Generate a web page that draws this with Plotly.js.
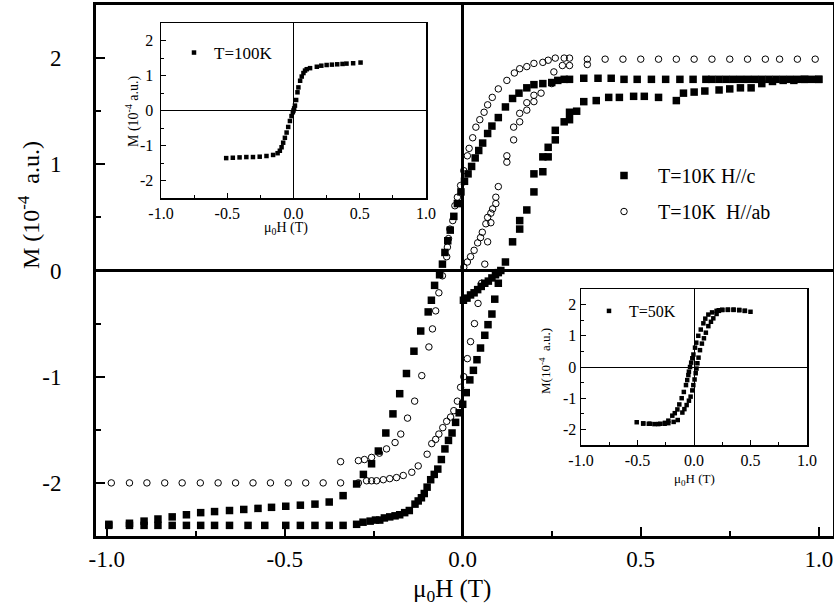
<!DOCTYPE html>
<html>
<head>
<meta charset="utf-8">
<script src="https://cdn.plot.ly/plotly-3.0.1.min.js"></script>
<style>html,body{margin:0;padding:0;background:#fff;}#chart{width:834px;height:616px;}</style>
</head>
<body>
<div id="chart"></div>
<script>
// ---------- Main panel: T=10K, H//c (filled squares) ----------
const cDescX = [1.00,0.98,0.96,0.94,0.92,0.90,0.88,0.86,0.84,0.82,0.80,0.78,0.76,0.74,0.72,0.70,0.683,0.647,0.61,0.57,0.53,0.49,0.453,0.417,0.38,0.34,0.30,0.285,0.267,0.25,0.225,0.20,0.18,0.158,0.14,0.12,0.10,0.082,0.07,0.056,0.045,0.035,0.025,0.015,0.005,-0.005,-0.015,-0.025,-0.035,-0.042,-0.05,-0.057,-0.065,-0.079,-0.088,-0.097,-0.118,-0.137,-0.158,-0.177,-0.196,-0.216,-0.237,-0.256,-0.279,-0.298,-0.336,-0.375,-0.415,-0.456,-0.497,-0.537,-0.575,-0.615,-0.655,-0.697,-0.736,-0.776,-0.816,-0.856,-0.895,-0.936,-0.994];
const cDescM = [1.80,1.80,1.80,1.80,1.80,1.80,1.80,1.80,1.80,1.80,1.80,1.80,1.80,1.80,1.80,1.80,1.80,1.80,1.80,1.80,1.80,1.80,1.80,1.81,1.81,1.81,1.80,1.80,1.79,1.77,1.76,1.75,1.72,1.67,1.62,1.54,1.44,1.36,1.29,1.20,1.13,1.06,0.98,0.91,0.84,0.74,0.63,0.51,0.38,0.28,0.17,0.06,-0.04,-0.14,-0.28,-0.39,-0.57,-0.76,-0.97,-1.16,-1.35,-1.53,-1.70,-1.82,-1.92,-2.01,-2.12,-2.18,-2.20,-2.21,-2.22,-2.23,-2.24,-2.25,-2.26,-2.27,-2.28,-2.30,-2.32,-2.34,-2.36,-2.38,-2.39];
const cAscX = [-0.994,-0.936,-0.895,-0.856,-0.816,-0.776,-0.736,-0.697,-0.655,-0.603,-0.556,-0.497,-0.456,-0.415,-0.375,-0.336,-0.298,-0.28,-0.26,-0.245,-0.233,-0.22,-0.205,-0.19,-0.177,-0.163,-0.15,-0.134,-0.125,-0.116,-0.108,-0.10,-0.09,-0.08,-0.07,-0.06,-0.05,-0.04,-0.03,-0.02,-0.01,0.0,0.01,0.02,0.03,0.04,0.05,0.062,0.071,0.082,0.09,0.10,0.12,0.14,0.16,0.16,0.18,0.20,0.20,0.225,0.225,0.24,0.24,0.26,0.26,0.285,0.30,0.30,0.32,0.34,0.375,0.41,0.44,0.48,0.51,0.55,0.60,0.62,0.65,0.68,0.72,0.75,0.78,0.81,0.84,0.87,0.90,0.93,0.96,1.00];
const cAscM = [-2.40,-2.40,-2.40,-2.40,-2.40,-2.40,-2.40,-2.40,-2.40,-2.40,-2.40,-2.40,-2.40,-2.40,-2.40,-2.40,-2.39,-2.37,-2.36,-2.35,-2.35,-2.33,-2.32,-2.31,-2.30,-2.28,-2.26,-2.20,-2.17,-2.14,-2.10,-2.04,-1.97,-1.92,-1.87,-1.78,-1.68,-1.60,-1.53,-1.43,-1.34,-1.26,-1.15,-1.03,-0.94,-0.84,-0.73,-0.61,-0.51,-0.41,-0.27,-0.12,0.08,0.27,0.39,0.47,0.57,0.74,0.91,0.93,1.07,1.07,1.16,1.23,1.32,1.40,1.42,1.49,1.50,1.59,1.60,1.63,1.63,1.64,1.64,1.63,1.60,1.67,1.68,1.69,1.70,1.71,1.72,1.72,1.76,1.78,1.79,1.79,1.80,1.80];
const cInitX = [0.002,0.012,0.022,0.032,0.042,0.052,0.062,0.072,0.082,0.092,0.100,0.107];
const cInitM = [-0.28,-0.26,-0.23,-0.21,-0.18,-0.15,-0.12,-0.10,-0.07,-0.04,-0.02,0.00];

// ---------- Main panel: T=10K, H//ab (open circles) ----------
const abDescX = [0.99,0.94,0.89,0.85,0.80,0.75,0.70,0.65,0.60,0.55,0.50,0.45,0.40,0.35,0.30,0.285,0.26,0.24,0.225,0.20,0.18,0.16,0.145,0.124,0.10,0.083,0.07,0.06,0.048,0.037,0.028,0.018,0.013,0.003,-0.006,-0.015,-0.022,-0.028,-0.036,-0.04,-0.043,-0.045,-0.057,-0.067,-0.076,-0.085,-0.095,-0.115,-0.135,-0.155,-0.174,-0.19,-0.214,-0.234,-0.256,-0.276,-0.293,-0.343,-0.392,-0.441,-0.490,-0.540,-0.589,-0.638,-0.687,-0.737,-0.788,-0.837,-0.887,-0.936,-0.987];
const abDescM = [1.99,1.99,1.99,1.99,1.99,1.99,1.99,1.99,1.99,1.99,1.99,1.99,1.99,1.99,2.00,2.00,2.00,1.98,1.96,1.95,1.92,1.90,1.86,1.79,1.71,1.63,1.56,1.49,1.42,1.35,1.25,1.15,1.08,0.94,0.80,0.69,0.61,0.47,0.39,0.30,0.22,0.13,-0.05,-0.21,-0.38,-0.55,-0.72,-0.99,-1.23,-1.39,-1.54,-1.62,-1.68,-1.72,-1.76,-1.78,-1.79,-1.80,-2.00,-2.00,-2.00,-2.00,-2.00,-2.00,-2.00,-2.00,-2.00,-2.00,-2.00,-2.00,-2.00];
const abAscX = [-0.343,-0.293,-0.27,-0.256,-0.242,-0.223,-0.205,-0.186,-0.167,-0.143,-0.125,-0.10,-0.087,-0.076,-0.067,-0.056,-0.045,-0.034,-0.025,-0.015,-0.006,0.003,0.013,0.022,0.033,0.043,0.053,0.062,0.07,0.079,0.084,0.093,0.093,0.10,0.124,0.124,0.143,0.143,0.16,0.16,0.18,0.18,0.20,0.20,0.22,0.25,0.256,0.28,0.30,0.35];
const abAscM = [-2.00,-2.00,-1.98,-1.98,-1.98,-1.97,-1.96,-1.95,-1.93,-1.90,-1.84,-1.73,-1.63,-1.59,-1.54,-1.48,-1.42,-1.38,-1.32,-1.23,-1.10,-1.00,-0.83,-0.67,-0.50,-0.31,-0.12,0.06,0.27,0.54,0.58,0.63,0.69,0.79,1.02,1.08,1.23,1.35,1.40,1.48,1.51,1.58,1.59,1.65,1.67,1.76,1.87,1.93,1.93,1.94];
const abInitX = [0.003,0.013,0.022,0.032,0.042,0.050,0.055,0.065,0.070,0.079];
const abInitM = [0.03,0.08,0.13,0.19,0.26,0.31,0.36,0.44,0.50,0.45];

// ---------- Inset: T=100K ----------
const t100X = [-0.508,-0.458,-0.407,-0.356,-0.306,-0.255,-0.204,-0.154,-0.12,-0.103,-0.09,-0.078,-0.065,-0.052,-0.04,-0.027,-0.015,-0.005,0.0,0.005,0.011,0.02,0.03,0.037,0.05,0.062,0.075,0.087,0.10,0.125,0.176,0.21,0.25,0.29,0.33,0.37,0.40,0.45,0.506];
const t100M = [-1.36,-1.35,-1.34,-1.33,-1.33,-1.32,-1.30,-1.27,-1.22,-1.15,-1.05,-0.92,-0.78,-0.63,-0.47,-0.30,-0.16,-0.05,0.0,0.06,0.14,0.30,0.52,0.66,0.85,0.97,1.07,1.14,1.18,1.21,1.25,1.28,1.30,1.31,1.32,1.33,1.34,1.35,1.37];

// ---------- Inset: T=50K ----------
const t50DescX = [0.50,0.45,0.40,0.35,0.30,0.25,0.22,0.20,0.16,0.127,0.10,0.083,0.06,0.038,0.02,0.009,-0.005,-0.015,-0.025,-0.035,-0.045,-0.05,-0.06,-0.071,-0.09,-0.109,-0.13,-0.147,-0.17,-0.192,-0.227,-0.257,-0.30,-0.35,-0.39,-0.449,-0.507];
const t50DescM = [1.77,1.80,1.82,1.83,1.83,1.83,1.82,1.80,1.75,1.68,1.55,1.40,1.20,1.00,0.78,0.62,0.40,0.28,0.14,0.00,-0.15,-0.26,-0.42,-0.58,-0.80,-1.00,-1.20,-1.36,-1.48,-1.56,-1.72,-1.79,-1.82,-1.83,-1.82,-1.81,-1.77];
const t50AscX = [-0.45,-0.40,-0.316,-0.26,-0.227,-0.18,-0.144,-0.103,-0.085,-0.065,-0.045,-0.03,-0.015,-0.006,0.005,0.015,0.022,0.03,0.04,0.053,0.07,0.088,0.105,0.127,0.15,0.171,0.20,0.22,0.25,0.30,0.35,0.40,0.45];
const t50AscM = [-1.81,-1.82,-1.83,-1.82,-1.80,-1.76,-1.70,-1.46,-1.35,-1.22,-1.08,-0.95,-0.75,-0.58,-0.40,-0.20,-0.05,0.12,0.30,0.54,0.75,0.92,1.10,1.31,1.45,1.56,1.70,1.80,1.83,1.84,1.84,1.83,1.80];

// ---------- Tick values / labels ----------
const hTicks = [-1, -0.5, 0, 0.5, 1];
const hLabels = ['-1.0', '-0.5', '0.0', '0.5', '1.0'];
const mTicks = [-2, -1, 0, 1, 2];
const mLabels = ['-2', '-1', '0', '1', '2'];

// ---------- Text ----------
const seriesNames = ['T=10K H//c', 'T=10K  H//ab', 'T=100K', 'T=50K'];
const mTitleMain = 'M (10<sup>-4</sup>  a.u.)';
const mTitleInset1 = 'M (10<sup>-4</sup> a.u.)';
const mTitleInset2 = 'M(10<sup>-4</sup>  a.u.)';
const hTitle = 'μ<sub>0</sub>H (T)';

const FONT = "'Liberation Serif', 'Times New Roman', serif";
const W = 834, H = 616;
const px = v => v / W, py = v => 1 - v / H;

const traces = [
  {x: cDescX.concat(cAscX, cInitX), y: cDescM.concat(cAscM, cInitM), mode: 'markers', name: seriesNames[0],
   marker: {symbol: 'square', size: 7.5, color: 'black'}, xaxis: 'x', yaxis: 'y', legend: 'legend', legendgroup: 'a'},
  {x: abDescX.concat(abAscX, abInitX), y: abDescM.concat(abAscM, abInitM), mode: 'markers', name: seriesNames[1],
   marker: {symbol: 'circle-open', size: 6.5, color: 'black', line: {width: 1, color: 'black'}}, xaxis: 'x', yaxis: 'y', legend: 'legend', legendgroup: 'b'},
  {x: t100X, y: t100M, mode: 'markers', name: seriesNames[2],
   marker: {symbol: 'square', size: 4.5, color: 'black'}, xaxis: 'x2', yaxis: 'y2', legend: 'legend2'},
  {x: t50DescX.concat(t50AscX), y: t50DescM.concat(t50AscM), mode: 'markers', name: seriesNames[3],
   marker: {symbol: 'square', size: 4.5, color: 'black'}, xaxis: 'x3', yaxis: 'y3', legend: 'legend3'}
];

function axis(o) {
  return Object.assign({
    showgrid: false, showline: true, mirror: true, linecolor: 'black', color: 'black',
    ticks: 'inside', tickcolor: 'black', zeroline: true, zerolinecolor: 'black', fixedrange: true
  }, o);
}

const layout = {
  width: W, height: H,
  margin: {l: 0, r: 0, t: 0, b: 0},
  paper_bgcolor: 'white', plot_bgcolor: 'white',
  font: {family: FONT, color: 'black'},
  showlegend: true,
  xaxis: axis({domain: [px(96), px(833)], range: [-1.03, 1.04], anchor: 'y',
    tickmode: 'array', tickvals: hTicks, ticktext: hLabels, ticklen: 9, tickwidth: 2, linewidth: 3,
    zerolinewidth: 2.5, tickfont: {size: 23, family: FONT}, ticklabelstandoff: 0,
    minor: {dtick: 0.25, tick0: 0, ticks: 'inside', ticklen: 5, tickwidth: 2, tickcolor: 'black'}}),
  yaxis: axis({domain: [py(536), py(5)], range: [-2.5, 2.5], anchor: 'x',
    tickmode: 'array', tickvals: mTicks, ticktext: mLabels, ticklen: 9, tickwidth: 2, linewidth: 3,
    zerolinewidth: 2.5, tickfont: {size: 23, family: FONT}, ticklabelstandoff: 27,
    minor: {dtick: 0.5, tick0: 0, ticks: 'inside', ticklen: 5, tickwidth: 2, tickcolor: 'black'}}),
  xaxis2: axis({domain: [px(161), px(426)], range: [-1, 1], anchor: 'y2',
    tickmode: 'array', tickvals: hTicks, ticktext: hLabels, ticklen: 5, tickwidth: 1, linewidth: 1.5,
    zerolinewidth: 1, tickfont: {size: 16, family: FONT}, ticklabelstandoff: 0,
    minor: {dtick: 0.25, tick0: 0, ticks: 'inside', ticklen: 3, tickwidth: 1, tickcolor: 'black'}}),
  yaxis2: axis({domain: [py(198), py(23)], range: [-2.5, 2.5], anchor: 'x2',
    tickmode: 'array', tickvals: mTicks, ticktext: mLabels, ticklen: 5, tickwidth: 1, linewidth: 1.5,
    zerolinewidth: 1, tickfont: {size: 16, family: FONT}, ticklabelstandoff: 3,
    minor: {dtick: 0.5, tick0: 0, ticks: 'inside', ticklen: 3, tickwidth: 1, tickcolor: 'black'}}),
  xaxis3: axis({domain: [px(581), px(807)], range: [-1, 1], anchor: 'y3',
    tickmode: 'array', tickvals: hTicks, ticktext: hLabels, ticklen: 5, tickwidth: 1, linewidth: 1.5,
    zerolinewidth: 1, tickfont: {size: 16, family: FONT}, ticklabelstandoff: 0,
    minor: {dtick: 0.25, tick0: 0, ticks: 'inside', ticklen: 3, tickwidth: 1, tickcolor: 'black'}}),
  yaxis3: axis({domain: [py(445), py(289)], range: [-2.5, 2.5], anchor: 'x3',
    tickmode: 'array', tickvals: mTicks, ticktext: mLabels, ticklen: 5, tickwidth: 1, linewidth: 1.5,
    zerolinewidth: 1, tickfont: {size: 16, family: FONT}, ticklabelstandoff: 0,
    minor: {dtick: 0.5, tick0: 0, ticks: 'inside', ticklen: 3, tickwidth: 1, tickcolor: 'black'}}),
  legend: {x: px(590), y: py(156), xanchor: 'left', yanchor: 'top', bgcolor: 'rgba(0,0,0,0)',
    itemwidth: 58, traceorder: 'grouped', tracegroupgap: 7, font: {size: 20, family: FONT}},
  legend2: {x: px(174), y: py(35), xanchor: 'left', yanchor: 'top', bgcolor: 'rgba(0,0,0,0)',
    itemwidth: 30, font: {size: 17, family: FONT}},
  legend3: {x: px(589), y: py(294), xanchor: 'left', yanchor: 'top', bgcolor: 'rgba(0,0,0,0)',
    itemwidth: 30, font: {size: 16, family: FONT}},
  annotations: [
    {text: mTitleMain, xref: 'paper', yref: 'paper', x: px(29), y: py(205), textangle: -90,
     showarrow: false, xanchor: 'center', yanchor: 'middle', font: {size: 24, family: FONT}},
    {text: hTitle, xref: 'paper', yref: 'paper', x: px(452), y: py(590),
     showarrow: false, xanchor: 'center', yanchor: 'middle', font: {size: 25, family: FONT}},
    {text: mTitleInset1, xref: 'paper', yref: 'paper', x: px(132), y: py(111), textangle: -90,
     showarrow: false, xanchor: 'center', yanchor: 'middle', font: {size: 14, family: FONT}},
    {text: hTitle, xref: 'paper', yref: 'paper', x: px(286), y: py(229),
     showarrow: false, xanchor: 'center', yanchor: 'middle', font: {size: 14, family: FONT}},
    {text: mTitleInset2, xref: 'paper', yref: 'paper', x: px(545), y: py(361), textangle: -90,
     showarrow: false, xanchor: 'center', yanchor: 'middle', font: {size: 13, family: FONT}},
    {text: hTitle, xref: 'paper', yref: 'paper', x: px(694), y: py(479),
     showarrow: false, xanchor: 'center', yanchor: 'middle', font: {size: 13, family: FONT}}
  ]
};

Plotly.newPlot('chart', traces, layout, {displayModeBar: false, staticPlot: true});
</script>
</body>
</html>
